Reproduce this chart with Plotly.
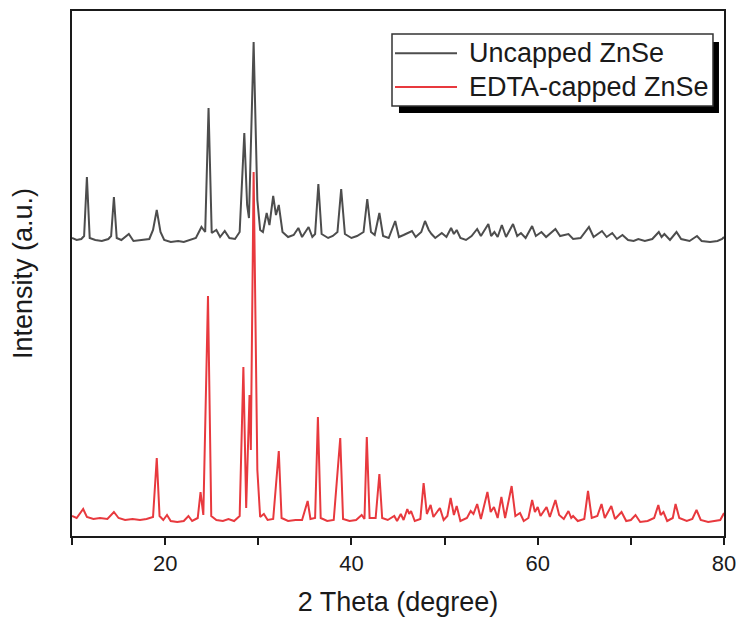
import plotly.graph_objects as go

# ---- data (2theta in degrees, intensity in a.u., traces offset as in the figure) ----
uncapped_x = [10.0, 10.5, 11.0, 11.3, 11.6, 11.9, 12.5, 13.2, 13.9, 14.2, 14.5, 14.8, 15.3, 16.1, 16.6,
              17.5, 18.3, 18.7, 19.1, 19.5, 19.9, 20.6, 21.4, 22.0, 22.6, 23.3, 23.9, 24.3, 24.66, 25.0,
              25.5, 25.9, 26.4, 26.9, 27.5, 28.0, 28.5, 28.8, 29.0, 29.5, 29.9, 30.2, 30.5, 30.9, 31.2,
              31.6, 31.9, 32.2, 32.6, 33.2, 33.8, 34.3, 34.7, 35.4, 35.8, 36.1, 36.45, 36.8, 37.5, 38.0,
              38.5, 38.9, 39.3, 40.0, 40.6, 41.3, 41.7, 42.1, 42.5, 43.0, 43.4, 44.0, 44.7, 45.1, 45.6,
              46.0, 46.5, 46.9, 47.5, 47.9, 48.3, 48.6, 49.0, 49.7, 50.2, 50.7, 51.0, 51.3, 51.7, 52.3,
              52.9, 53.5, 53.9, 54.7, 55.0, 55.35, 55.7, 56.15, 56.6, 57.35, 57.8, 58.2, 58.7, 59.4, 59.8,
              60.4, 60.9, 61.9, 62.4, 63.3, 63.8, 64.6, 65.5, 66.0, 66.9, 67.4, 68.0, 68.5, 69.1, 69.7,
              70.3, 70.8, 71.5, 72.3, 73.0, 73.3, 73.6, 74.2, 74.9, 75.4, 76.3, 77.1, 77.6, 78.5, 79.3,
              79.8, 80.0]
uncapped_y = [298, 296, 297, 300, 359, 298, 296, 295, 297, 300, 339, 298, 296, 302, 295,
              296, 297, 306, 326, 304, 296, 294, 295, 294, 296, 298, 309, 304, 428, 303,
              306, 299, 305, 298, 297, 304, 403, 331, 318, 494, 336, 306, 304, 323, 311,
              340, 321, 331, 304, 299, 301, 308, 299, 309, 299, 302, 352, 302, 298, 300,
              304, 347, 302, 298, 300, 304, 337, 304, 301, 323, 300, 298, 315, 299, 301,
              303, 305, 299, 304, 315, 306, 302, 298, 303, 299, 308, 302, 306, 298, 296,
              300, 307, 300, 312, 300, 304, 299, 311, 299, 312, 300, 303, 298, 310, 300,
              304, 299, 307, 300, 302, 297, 298, 309, 299, 305, 299, 303, 297, 301, 296,
              295, 297, 295, 297, 304, 299, 302, 296, 304, 297, 295, 300, 295, 294, 295,
              297, 299]

edta_x = [10.0, 10.5, 11.2, 11.6, 12.3, 13.0, 13.8, 14.5, 15.0, 15.7, 16.5, 17.3, 18.0, 18.7, 19.1,
          19.4, 19.8, 20.2, 20.6, 21.3, 22.0, 22.5, 22.9, 23.5, 23.8, 24.1, 24.6, 24.95, 25.5, 26.2,
          26.8, 27.4, 28.0, 28.4, 28.7, 29.06, 29.2, 29.5, 29.9, 30.2, 30.6, 31.0, 31.6, 32.2, 32.5,
          33.2, 34.0, 34.7, 35.3, 35.6, 36.1, 36.4, 36.7, 37.4, 38.1, 38.8, 39.1, 39.8, 40.5, 41.1,
          41.4, 41.65, 41.95, 42.6, 43.0, 43.3, 43.9, 44.6, 44.9, 45.3, 45.6, 46.0, 46.2, 46.4, 46.8,
          47.4, 47.75, 48.1, 48.5, 48.8, 49.5, 49.9, 50.3, 50.65, 51.0, 51.3, 51.7, 52.4, 52.8, 53.1,
          53.5, 53.9, 54.6, 54.95, 55.3, 55.7, 56.1, 56.5, 57.2, 57.6, 58.1, 58.5, 59.0, 59.4, 59.7,
          60.0, 60.3, 60.95, 61.3, 61.9, 62.3, 62.8, 63.3, 63.6, 63.8, 64.3, 65.0, 65.4, 65.8, 66.4,
          66.85, 67.2, 67.9, 68.3, 69.0, 69.5, 70.0, 70.5, 71.0, 71.8, 72.5, 72.95, 73.2, 73.5, 73.9,
          74.5, 74.8, 75.2, 76.0, 76.6, 77.05, 77.5, 78.3, 79.0, 79.6, 80.0]
edta_y = [20, 18, 27, 19, 17, 18, 17, 24, 18, 16, 17, 16, 17, 19, 78,
          20, 16, 21, 15, 14, 15, 20, 15, 18, 44, 21, 240, 20, 16, 15,
          17, 15, 20, 169, 28, 141, 86, 364, 66, 19, 22, 16, 17, 85, 18,
          15, 16, 16, 35, 17, 18, 119, 18, 15, 16, 98, 17, 15, 16, 21,
          17, 99, 18, 18, 62, 18, 16, 20, 15, 22, 16, 27, 22, 25, 15,
          17, 53, 22, 31, 19, 28, 16, 20, 38, 21, 30, 15, 18, 25, 22,
          32, 17, 44, 24, 29, 18, 39, 18, 50, 20, 23, 15, 18, 36, 24,
          29, 20, 29, 19, 36, 21, 17, 25, 18, 20, 15, 17, 45, 18, 20,
          32, 18, 30, 17, 24, 15, 16, 21, 14, 15, 18, 31, 21, 24, 15,
          18, 32, 18, 15, 17, 26, 16, 14, 15, 16, 23]

series_names = ["Uncapped ZnSe", "EDTA-capped ZnSe"]
series_colors = ["#4d4d4d", "#e8393e"]
tick_vals = [10, 20, 30, 40, 50, 60, 70, 80]
tick_text = ["", "20", "", "40", "", "60", "", "80"]

FONT = "Liberation Sans, Arial, sans-serif"
TXT = "#1a1a1a"

fig = go.Figure()
fig.add_trace(go.Scatter(x=edta_x, y=edta_y, mode="lines", name=series_names[1],
                         line=dict(color=series_colors[1], width=2), showlegend=False))
fig.add_trace(go.Scatter(x=uncapped_x, y=uncapped_y, mode="lines", name=series_names[0],
                         line=dict(color=series_colors[0], width=2), showlegend=False))

# custom legend (box with drop shadow)
shapes = [
    dict(type="rect", xref="paper", yref="paper", x0=0.5015, x1=0.9923, y0=0.8057, y1=0.941,
         fillcolor="black", line=dict(width=0), layer="above"),
    dict(type="rect", xref="paper", yref="paper", x0=0.4908, x1=0.9831, y0=0.819, y1=0.9562,
         fillcolor="white", line=dict(color="#333333", width=1.5), layer="above"),
    dict(type="line", xref="paper", yref="paper", x0=0.4954, x1=0.5905, y0=0.9194, y1=0.9194,
         line=dict(color=series_colors[0], width=2), layer="above"),
    dict(type="line", xref="paper", yref="paper", x0=0.4954, x1=0.5905, y0=0.8552, y1=0.8552,
         line=dict(color=series_colors[1], width=2), layer="above"),
]
annotations = [
    dict(x=0.6058, y=0.9194, xref="paper", yref="paper", text=series_names[0], showarrow=False,
         xanchor="left", yanchor="middle", font=dict(family=FONT, size=27, color=TXT)),
    dict(x=0.6058, y=0.8552, xref="paper", yref="paper", text=series_names[1], showarrow=False,
         xanchor="left", yanchor="middle", font=dict(family=FONT, size=27, color=TXT)),
]

fig.update_layout(
    width=738, height=617,
    margin=dict(l=72, r=14, t=11, b=81),
    paper_bgcolor="white", plot_bgcolor="white",
    font=dict(family=FONT, color=TXT),
    shapes=shapes, annotations=annotations,
    showlegend=False,
)
fig.update_xaxes(range=[10, 80], tickvals=tick_vals, ticktext=tick_text, automargin=False,
                 ticks="outside", ticklen=7, tickwidth=1.5, tickcolor="#1a1a1a",
                 showline=True, linecolor="#1a1a1a", linewidth=2, mirror=True,
                 showgrid=False, zeroline=False,
                 tickfont=dict(family=FONT, size=22, color=TXT),
                 title=dict(text="2 Theta (degree)", font=dict(family=FONT, size=27, color=TXT), standoff=21))
fig.update_yaxes(range=[0, 525], showticklabels=False, ticks="", automargin=False,
                 showline=True, linecolor="#1a1a1a", linewidth=2, mirror=True,
                 showgrid=False, zeroline=False,
                 title=dict(text="Intensity (a.u.)", font=dict(family=FONT, size=27, color=TXT), standoff=30))

fig.write_html("out.html")
